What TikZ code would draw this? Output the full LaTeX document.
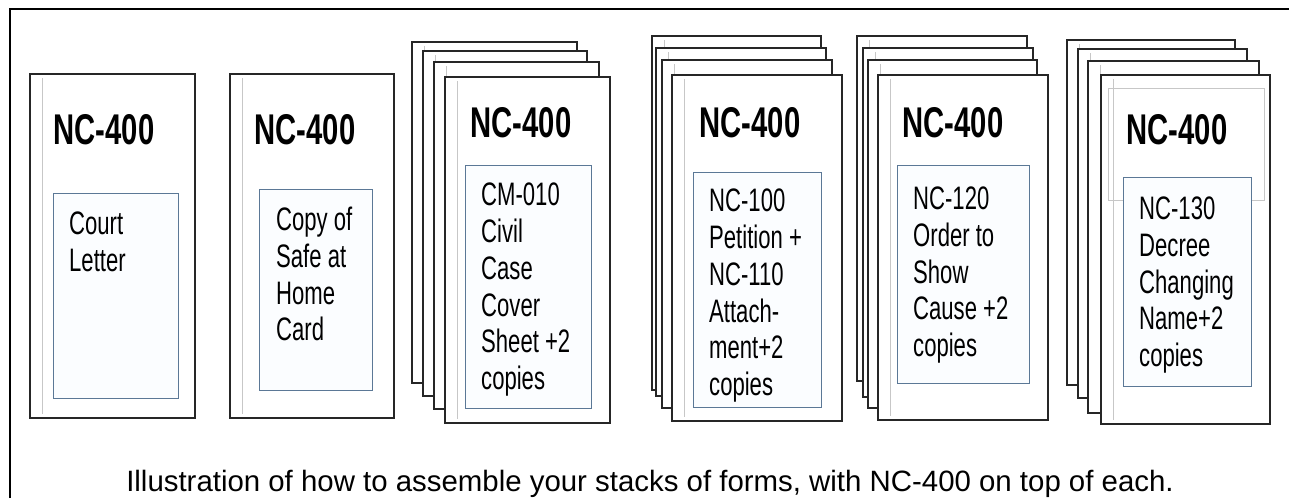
\documentclass[tikz,border=0pt]{standalone}
\usepackage{fontspec}
\setmainfont{Liberation Sans}
\newfontfamily\narrowfont[FakeStretch=0.68]{Liberation Sans}
\definecolor{slipblue}{HTML}{5B7896}
\definecolor{slipfill}{HTML}{FBFDFF}
\begin{document}
\begin{tikzpicture}[x=1pt,y=-1pt,
  page/.style={draw=black!85,line width=1.7pt,fill=white},
  slip/.style={draw=slipblue,line width=0.9pt,fill=slipfill},
  rule/.style={draw=black!22,line width=0.6pt},
  formno/.style={inner sep=0pt,font=\narrowfont\bfseries\fontsize{43}{43}\selectfont},
  formtext/.style={anchor=north west,inner sep=0pt,align=left,font=\narrowfont\fontsize{32.5}{36.7}\selectfont}]
\useasboundingbox (0,0) rectangle (1289,498);
\draw[line width=1.2pt] (10,498) -- (10,9) -- (1289,9);
% stacks of pages, back to front
\foreach \xa/\ya/\xb/\yb in {30/74/195/418, 230/74/394/418,
  412/42/577/383, 423/51/587/396, 434/62/599/409, 445/77/610/423,
  652/36/821/390, 656/48/826/396, 662/60/832/408, 672/75/842/421,
  857/36/1027/381, 863/48/1033/397, 868/60/1037/408, 878/75/1048/420,
  1067/40/1235/385, 1078/49/1247/398, 1088/61/1259/413, 1101/75/1270/424}{
  \draw[page] (\xa,\ya) rectangle (\xb,\yb);
  \draw[rule] (\xa+12,\ya+4) -- (\xa+12,\yb-4);
}
\draw[rule] (1108,88) rectangle (1264,200);
% slips with the forms
\draw[slip] (53,193) rectangle (178,398);
\draw[slip] (259,189) rectangle (372,390);
\draw[slip] (465,165) rectangle (591,408);
\draw[slip] (693,172) rectangle (821,407);
\draw[slip] (897,165) rectangle (1029,383);
\draw[slip] (1123,177) rectangle (1251,386);
\node[formno] (n1) at (104,130) {NC-400};
\node[formno] (n2) at (305,130) {NC-400};
\node[formno] (n3) at (521,123) {NC-400};
\node[formno] (n4) at (750,123) {NC-400};
\node[formno] (n5) at (953,123) {NC-400};
\node[formno] (n6) at (1177,130) {NC-400};
\node[formtext] (f1) at (69,212) {Court\\Letter};
\node[formtext] (f2) at (276,207) {Copy of\\Safe at\\Home\\Card};
\node[formtext] (f3) at (481,183) {CM-010\\Civil\\Case\\Cover\\Sheet +2\\copies};
\node[formtext] (f4) at (709,189) {NC-100\\Petition +\\NC-110\\Attach-\\ment+2\\copies};
\node[formtext] (f5) at (913,187) {NC-120\\Order to\\Show\\Cause +2\\copies};
\node[formtext] (f6) at (1139,197) {NC-130\\Decree\\Changing\\Name+2\\copies};
\node[font=\fontsize{29.4}{29.4}\selectfont] (cap) at (650,484) {Illustration of how to assemble your stacks of forms, with NC-400 on top of each.};
\end{tikzpicture}
\end{document}
